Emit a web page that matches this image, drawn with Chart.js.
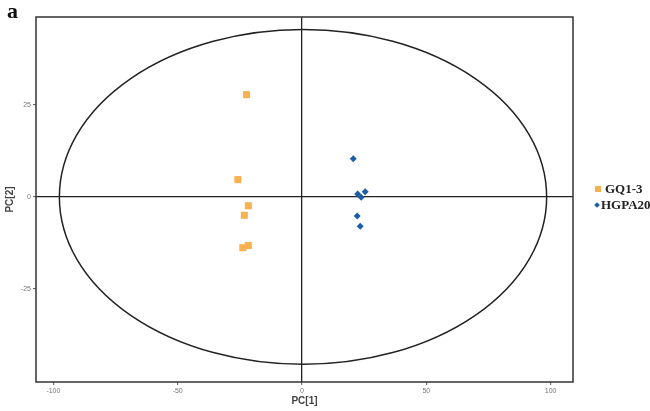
<!DOCTYPE html>
<html>
<head>
<meta charset="utf-8">
<script src="https://cdn.jsdelivr.net/npm/chart.js@4.4.0/dist/chart.umd.min.js"></script>
<style>
  body { margin: 0; background: #fff; }
  #wrap { position: relative; width: 650px; height: 411px; }
  #panel { position: absolute; left: 7px; top: -2px; font: bold 22px "Liberation Serif", serif; color: #111; }
  #legend { position: absolute; left: 593px; top: 181px; font: bold 13px "Liberation Serif", serif; color: #222; }
  #legend div { height: 16px; line-height: 16px; white-space: nowrap; }
  .sq { display: inline-block; width: 6px; height: 6px; background: #F8B150; margin: 0 4px 0 2px; vertical-align: 1px; }
  .dm { display: inline-block; width: 4px; height: 4px; background: #1C5EA6; transform: rotate(45deg); margin: 0 2px 0 2px; vertical-align: 2px; }
</style>
</head>
<body>
<div id="wrap">
  <canvas id="c" width="650" height="411"></canvas>
  <div id="panel">a</div>
  <div id="legend">
    <div><span class="sq"></span>GQ1-3</div>
    <div><span class="dm"></span>HGPA20</div>
  </div>
</div>
<script>
const seriesNames = ['GQ1-3', 'HGPA20'];
const gqX = [-22.3, -25.8, -21.6, -23.2, -21.6, -23.8];
const gqY = [27.8, 4.7, -2.4, -5.0, -13.2, -13.8];
const hgX = [20.6, 22.4, 25.4, 23.8, 22.2, 23.4];
const hgY = [10.4, 0.8, 1.4, -0.1, -5.2, -8.0];
const xTicks = [-100, -50, 0, 50, 100];
const yTicks = [-25, 0, 25];
const ellipseRadii = [98, 45.5];

const toPoints = (xs, ys) => xs.map((x, i) => ({ x: x, y: ys[i] }));

const framePlugin = {
  id: 'frame',
  beforeDatasetsDraw(chart) {
    const { ctx, chartArea, scales } = chart;
    const cx = scales.x.getPixelForValue(0);
    const cy = scales.y.getPixelForValue(0);
    const rx = scales.x.getPixelForValue(ellipseRadii[0]) - cx;
    const ry = cy - scales.y.getPixelForValue(ellipseRadii[1]);
    ctx.save();
    ctx.strokeStyle = '#222';
    ctx.lineWidth = 1.5;
    ctx.beginPath();
    ctx.ellipse(cx + 1, cy, rx, ry, 0, 0, Math.PI * 2);
    ctx.stroke();
    ctx.strokeStyle = '#333';
    ctx.lineWidth = 1.5;
    ctx.strokeRect(chartArea.left, chartArea.top, chartArea.right - chartArea.left, chartArea.bottom - chartArea.top);
    ctx.restore();
  }
};

const gridOpts = {
  color: (c) => (c.tick && c.tick.value === 0 ? '#222' : 'rgba(0,0,0,0)'),
  lineWidth: 1.3,
  drawTicks: true,
  tickColor: '#555',
  tickLength: 3,
  tickWidth: 1
};

new Chart(document.getElementById('c').getContext('2d'), {
  type: 'scatter',
  data: {
    datasets: [
      {
        label: seriesNames[0],
        data: toPoints(gqX, gqY),
        pointStyle: 'rect',
        pointRadius: 5,
        backgroundColor: '#F8B150',
        borderColor: '#F8B150',
        borderWidth: 0
      },
      {
        label: seriesNames[1],
        data: toPoints(hgX, hgY),
        pointStyle: 'rectRot',
        pointRadius: 3.5,
        backgroundColor: '#1C5EA6',
        borderColor: '#1C5EA6',
        borderWidth: 0
      }
    ]
  },
  options: {
    responsive: false,
    animation: false,
    layout: { padding: { top: 17, right: 77, left: 0, bottom: 0 } },
    plugins: { legend: { display: false }, tooltip: { enabled: false } },
    scales: {
      x: {
        type: 'linear',
        min: -107,
        max: 109,
        afterBuildTicks: (s) => { s.ticks = xTicks.map(v => ({ value: v })); },
        afterFit: (s) => { s.height = 29; },
        grid: gridOpts,
        border: { display: false },
        ticks: { color: '#777', font: { family: 'Liberation Sans', size: 7 }, padding: 2 },
        title: { display: true, text: 'PC[1]', color: '#444', font: { family: 'Liberation Sans', size: 10, weight: 'bold' }, padding: { top: 0 } }
      },
      y: {
        type: 'linear',
        min: -50.3,
        max: 48.9,
        afterBuildTicks: (s) => { s.ticks = yTicks.map(v => ({ value: v })); },
        afterFit: (s) => { s.width = 36; },
        grid: gridOpts,
        border: { display: false },
        ticks: { color: '#777', font: { family: 'Liberation Sans', size: 7 }, padding: 2 },
        title: { display: true, text: 'PC[2]', color: '#444', font: { family: 'Liberation Sans', size: 10, weight: 'bold' }, padding: { bottom: 3 } }
      }
    }
  },
  plugins: [framePlugin]
});
</script>
</body>
</html>
